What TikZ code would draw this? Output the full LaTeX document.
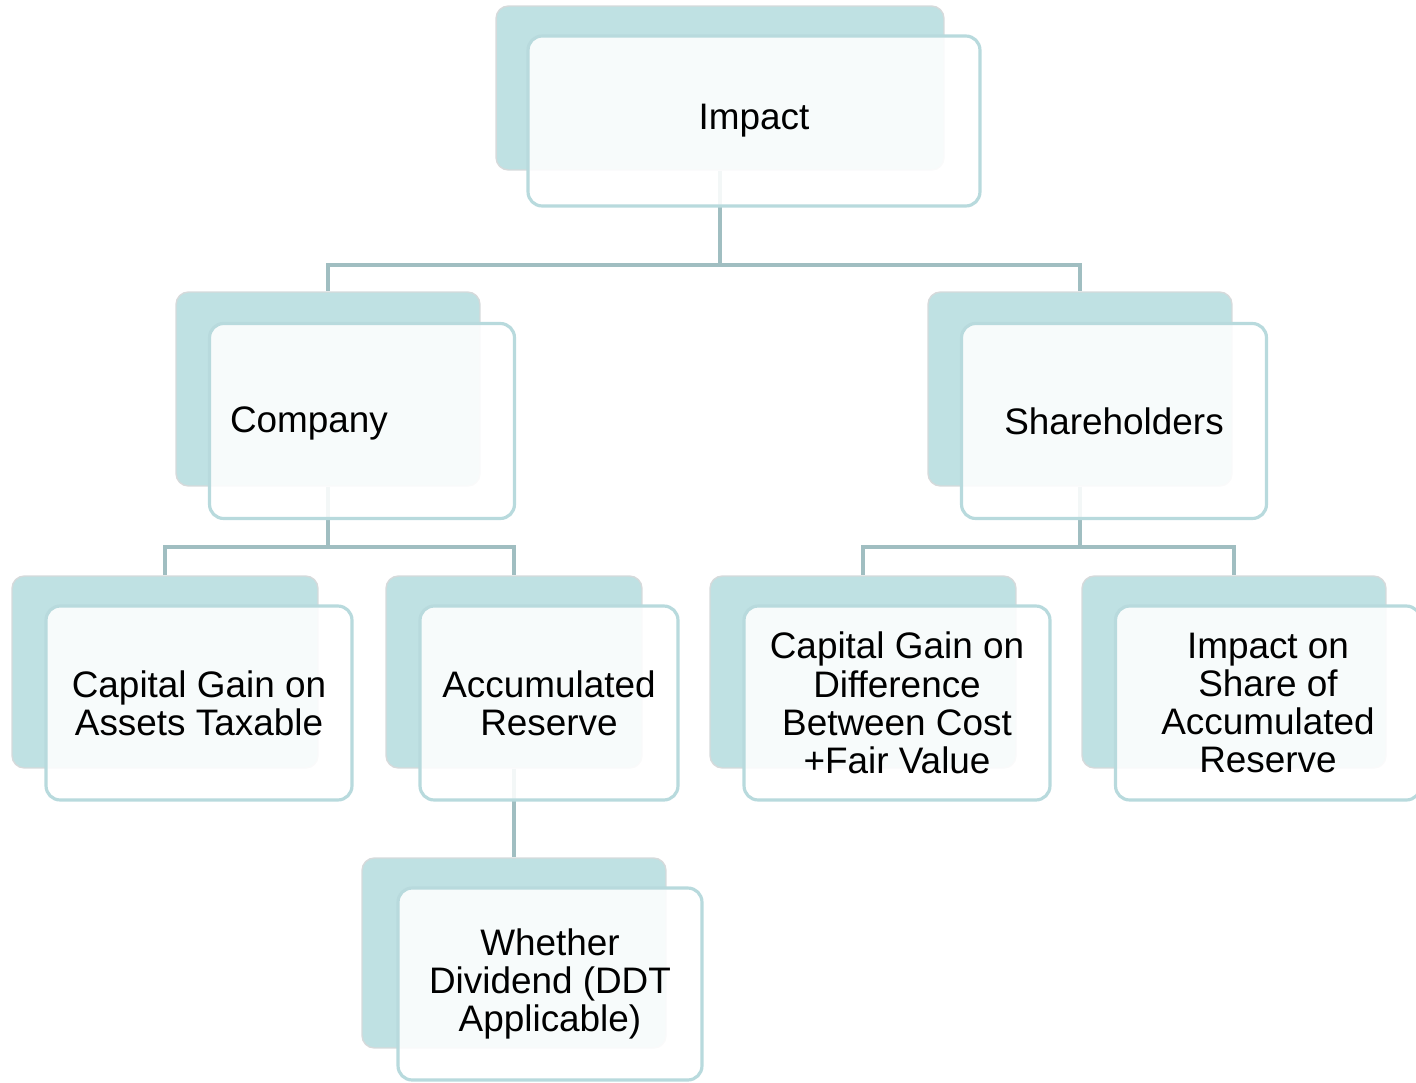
\documentclass[tikz,border=0pt]{standalone}
\usepackage{fontspec}
\setmainfont{Liberation Sans}
\usetikzlibrary{positioning,backgrounds}
\definecolor{tealfond}{RGB}{191,225,227}
\definecolor{tealligne}{RGB}{184,218,221}
\definecolor{liengris}{RGB}{160,190,193}
\definecolor{bordgris}{RGB}{214,218,219}

\begin{document}
\begin{tikzpicture}[x=0.02cm,y=-0.02cm,
  arriere/.style={draw=bordgris,line width=0.8pt,fill=tealfond,rounded corners=7pt},
  devant/.style={draw=tealligne,line width=1.8pt,fill=white,fill opacity=0.88,text opacity=1,rounded corners=8pt,align=center,font=\fontsize{21}{21.8}\selectfont,inner sep=2pt},
  texte/.style={font=\fontsize{21}{21.8}\selectfont,align=center},
  lien/.style={draw=liengris,line width=2.4pt}]
\useasboundingbox (0,0) rectangle (1416,1082);
% niveau 1
\node[arriere,minimum width=8.96cm,minimum height=3.28cm] (imp) at (720,88) {};
\node[devant,minimum width=9.04cm,minimum height=3.4cm] (impF) at ([shift={(34,33)}]imp.center) {Impact};
% niveau 2
\node[arriere,minimum width=6.08cm,minimum height=3.88cm] (comp) at (328,389) {};
\node[devant,minimum width=6.1cm,minimum height=3.9cm] (compF) at ([shift={(34,32)}]comp.center) {};
\node[texte] (compT) at ([shift={(-53,2)}]compF.center) {Company};
\node[arriere,minimum width=6.08cm,minimum height=3.88cm] (share) at (1080,389) {};
\node[devant,minimum width=6.1cm,minimum height=3.9cm] (shareF) at ([shift={(34,32)}]share.center) {Shareholders};
% niveau 3
\node[arriere,minimum width=6.12cm,minimum height=3.84cm] (cga) at (165,672) {};
\node[devant,minimum width=6.12cm,minimum height=3.88cm] (cgaF) at ([shift={(34,31)}]cga.center) {Capital Gain on\\Assets Taxable};
\node[arriere,minimum width=5.12cm,minimum height=3.84cm] (accr) at (514,672) {};
\node[devant,minimum width=5.16cm,minimum height=3.88cm] (accrF) at ([shift={(35,31)}]accr.center) {Accumulated\\Reserve};
\node[arriere,minimum width=6.12cm,minimum height=3.84cm] (cgd) at (863,672) {};
\node[devant,minimum width=6.12cm,minimum height=3.88cm] (cgdF) at ([shift={(34,31)}]cgd.center) {Capital Gain on\\Difference\\Between Cost\\+Fair Value};
\node[arriere,minimum width=6.08cm,minimum height=3.84cm] (ishr) at (1234,672) {};
\node[devant,minimum width=6.1cm,minimum height=3.88cm] (ishrF) at ([shift={(34,31)}]ishr.center) {Impact on\\Share of\\Accumulated\\Reserve};
% niveau 4
\node[arriere,minimum width=6.08cm,minimum height=3.8cm] (div) at (514,953) {};
\node[devant,minimum width=6.08cm,minimum height=3.84cm] (divF) at ([shift={(36,31)}]div.center) {Whether\\Dividend (DDT\\Applicable)};
% liens
\begin{scope}[on background layer]
\draw[lien] (imp.south) -- ++(0,94) -| (comp.north);
\draw[lien] (imp.south) -- ++(0,94) -| (share.north);
\draw[lien] (comp.south) -- ++(0,60) -| (cga.north);
\draw[lien] (comp.south) -- ++(0,60) -| (accr.north);
\draw[lien] (share.south) -- ++(0,60) -| (cgd.north);
\draw[lien] (share.south) -- ++(0,60) -| (ishr.north);
\draw[lien] (accr.south) -- (div.north);
\end{scope}
\end{tikzpicture}
\end{document}
